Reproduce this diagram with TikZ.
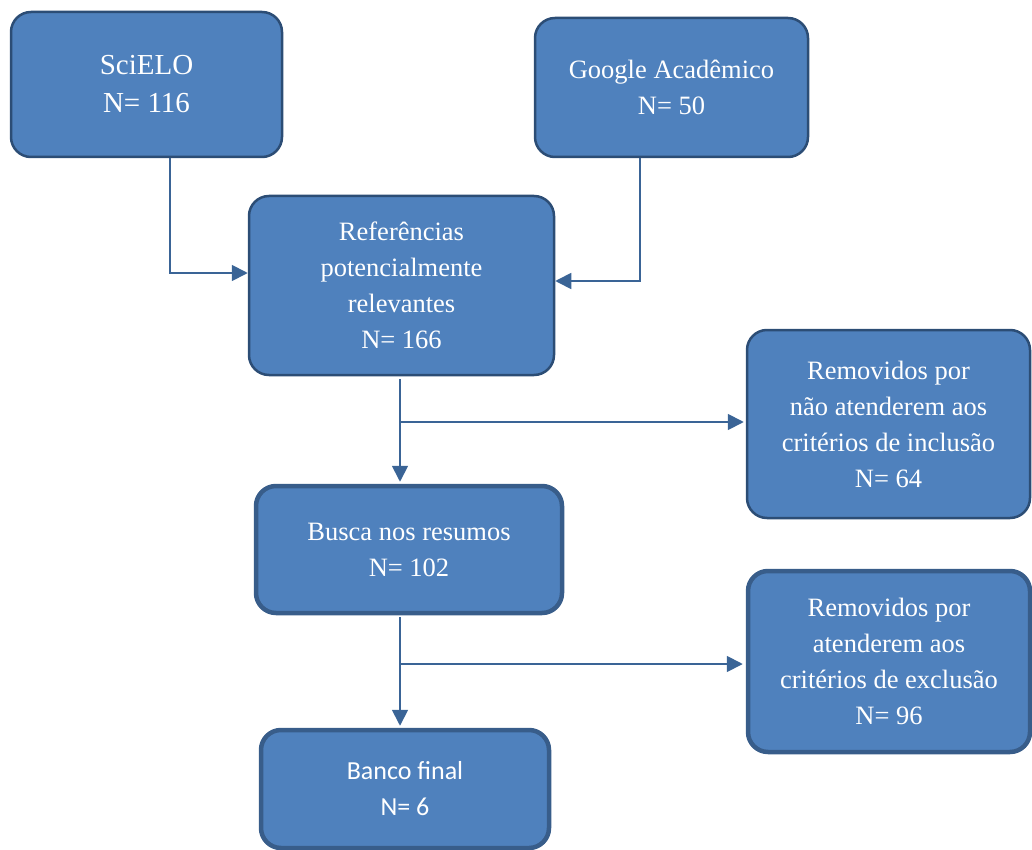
\documentclass[tikz,border=0pt]{standalone}
\usepackage{fontspec}
\setmainfont{Liberation Serif}
\newfontfamily\calib{Carlito}
\usetikzlibrary{arrows.meta}
\definecolor{boxfill}{HTML}{4F81BD}
\definecolor{thinedge}{HTML}{2C4D75}
\definecolor{thickedge}{HTML}{385D8A}
\definecolor{arrowcol}{HTML}{3A6496}
\tikzset{
  box/.style={rectangle, rounded corners=20pt, fill=boxfill, draw=thinedge, line width=2.5pt,
    text=white, align=center, inner sep=0pt, font=\fontsize{26.5}{36}\selectfont},
  thickbox/.style={box, draw=thickedge, line width=4.5pt},
  arr/.style={draw=arrowcol, line width=1.8pt, -{Triangle[length=16pt,width=16pt]}},
  ln/.style={draw=arrowcol, line width=1.8pt}
}
\begin{document}
\begin{tikzpicture}[x=1pt,y=-1pt]
\useasboundingbox (0,0) rectangle (1032,850);
\node[box, minimum width=271pt, minimum height=145pt, font=\fontsize{29}{38}\selectfont] (sci) at (146.5,84.5) {SciELO\\N= 116};
\node[box, minimum width=273pt, minimum height=139pt, font=\fontsize{26.5}{36}\selectfont] (goo) at (671.5,87.5) {Google Acadêmico\\N= 50};
\node[box, minimum width=305pt, minimum height=179pt] (ref) at (401.5,285.5) {Referências\\potencialmente\\relevantes\\N= 166};
\node[box, minimum width=283pt, minimum height=188pt] (rem1) at (888.5,424) {Removidos por\\não atenderem aos\\critérios de inclusão\\N= 64};
\node[thickbox, minimum width=306pt, minimum height=127pt] (busca) at (409,549.5) {Busca nos resumos\\N= 102};
\node[thickbox, minimum width=282pt, minimum height=181pt] (rem2) at (889,661.5) {Removidos por\\atenderem aos\\critérios de exclusão\\N= 96};
\node[thickbox, minimum width=288pt, minimum height=118pt, font=\calib\fontsize{26}{36}\selectfont] (banco) at (405,789) {Banco final\\N= 6};
\coordinate (j1) at (400,422);
\coordinate (j2) at (400,664);
\draw[arr] ([xshift=23.5pt]sci.south) |- ([yshift=12.5pt]ref.west);
\draw[arr] ([xshift=-31.5pt]goo.south) |- ([yshift=4.5pt]ref.east);
\draw[arr] ([yshift=-3pt]ref.south -| j1) -- ([yshift=2pt]busca.north -| j1);
\draw[arr] (j1) -- ([xshift=-2pt]rem1.west |- j1);
\draw[arr] ([yshift=-2pt]busca.south -| j2) -- ([yshift=2pt]banco.north -| j2);
\draw[arr] (j2) -- ([xshift=-3pt]rem2.west |- j2);
\end{tikzpicture}
\end{document}
